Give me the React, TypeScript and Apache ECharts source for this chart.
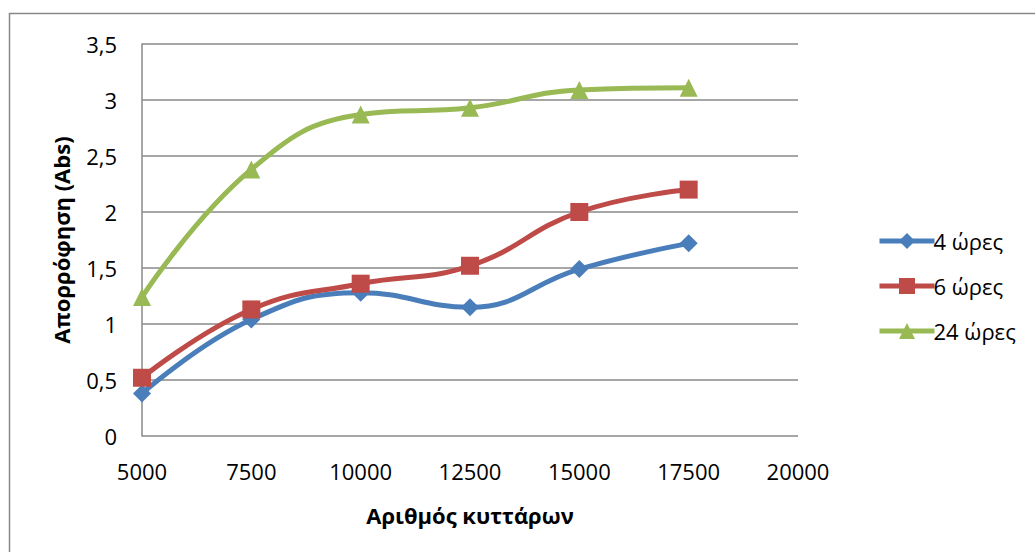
import React, { useEffect, useRef } from "react";
import * as echarts from "echarts";

// Cell counts on the x axis
const cellCounts = [5000, 7500, 10000, 12500, 15000, 17500];

// Absorbance per incubation time
const abs4h = [0.38, 1.04, 1.28, 1.15, 1.49, 1.72];
const abs6h = [0.52, 1.13, 1.36, 1.52, 2.0, 2.2];
const abs24h = [1.24, 2.38, 2.87, 2.93, 3.09, 3.11];

const seriesNames = ["4 ώρες", "6 ώρες", "24 ώρες"];
const xTitle = "Αριθμός κυττάρων";
const yTitle = "Απορρόφηση (Abs)";

const FONT = "'Open Sans', 'Noto Sans', sans-serif";

function pairs(values: number[]) {
  return cellCounts.map((x, i) => [x, values[i]]);
}

export default function App() {
  const ref = useRef<HTMLDivElement>(null);

  useEffect(() => {
    if (!ref.current) return;
    const chart = echarts.init(ref.current, undefined, { renderer: "svg" });

    const mkSeries = (name: string, data: number[], color: string, symbol: string) => ({
      name,
      type: "line",
      data: pairs(data),
      smooth: 0.45,
      symbol,
      symbolSize: 18,
      lineStyle: { color, width: 5 },
      itemStyle: { color },
      z: 3,
    });

    chart.setOption({
      animation: false,
      backgroundColor: "#ffffff",
      textStyle: { fontFamily: FONT },
      grid: { left: 142, top: 44, right: 237, bottom: 116, containLabel: false },
      xAxis: {
        type: "value",
        min: 5000,
        max: 20000,
        interval: 2500,
        axisLine: { show: false },
        axisTick: { show: false },
        splitLine: { show: false },
        axisLabel: {
          color: "#000",
          fontSize: 22,
          fontFamily: FONT,
          margin: 24,
          formatter: (v: number) => String(v),
        },
        name: xTitle,
        nameLocation: "middle",
        nameGap: 68,
        nameTextStyle: { color: "#000", fontSize: 22, fontWeight: "bold", fontFamily: FONT },
      },
      yAxis: {
        type: "value",
        min: 0,
        max: 3.5,
        interval: 0.5,
        axisLine: { show: true, lineStyle: { color: "#888", width: 1.5 } },
        axisTick: { show: false },
        splitLine: { show: true, lineStyle: { color: "#888", width: 1.5 } },
        axisLabel: {
          color: "#000",
          fontSize: 22,
          fontFamily: FONT,
          margin: 25,
          formatter: (v: number) => String(v).replace(".", ","),
        },
        name: yTitle,
        nameLocation: "middle",
        nameGap: 70,
        nameRotate: 90,
        nameTextStyle: { color: "#000", fontSize: 22, fontWeight: "bold", fontFamily: FONT },
      },
      legend: {
        orient: "vertical",
        left: 872,
        top: 225,
        itemWidth: 55,
        itemHeight: 20,
        itemGap: 23,
        data: seriesNames,
        lineStyle: { width: 5 },
        textStyle: { color: "#000", fontSize: 22, fontFamily: FONT, padding: [0, 0, 0, -6] },
      },
      graphic: [
        {
          type: "rect",
          shape: { x: 9.5, y: 13.5, width: 1100, height: 700 },
          style: { fill: "none", stroke: "#888", lineWidth: 1.5 },
          silent: true,
        },
      ],
      series: [
        mkSeries(seriesNames[0], abs4h, "#4A7EBB", "diamond"),
        mkSeries(seriesNames[1], abs6h, "#BE4B48", "rect"),
        mkSeries(seriesNames[2], abs24h, "#98B954", "triangle"),
      ],
    });

    return () => chart.dispose();
  }, []);

  return (
    <div
      ref={ref}
      style={{ position: "absolute", left: 0, top: 0, width: 1035, height: 552 }}
    />
  );
}
